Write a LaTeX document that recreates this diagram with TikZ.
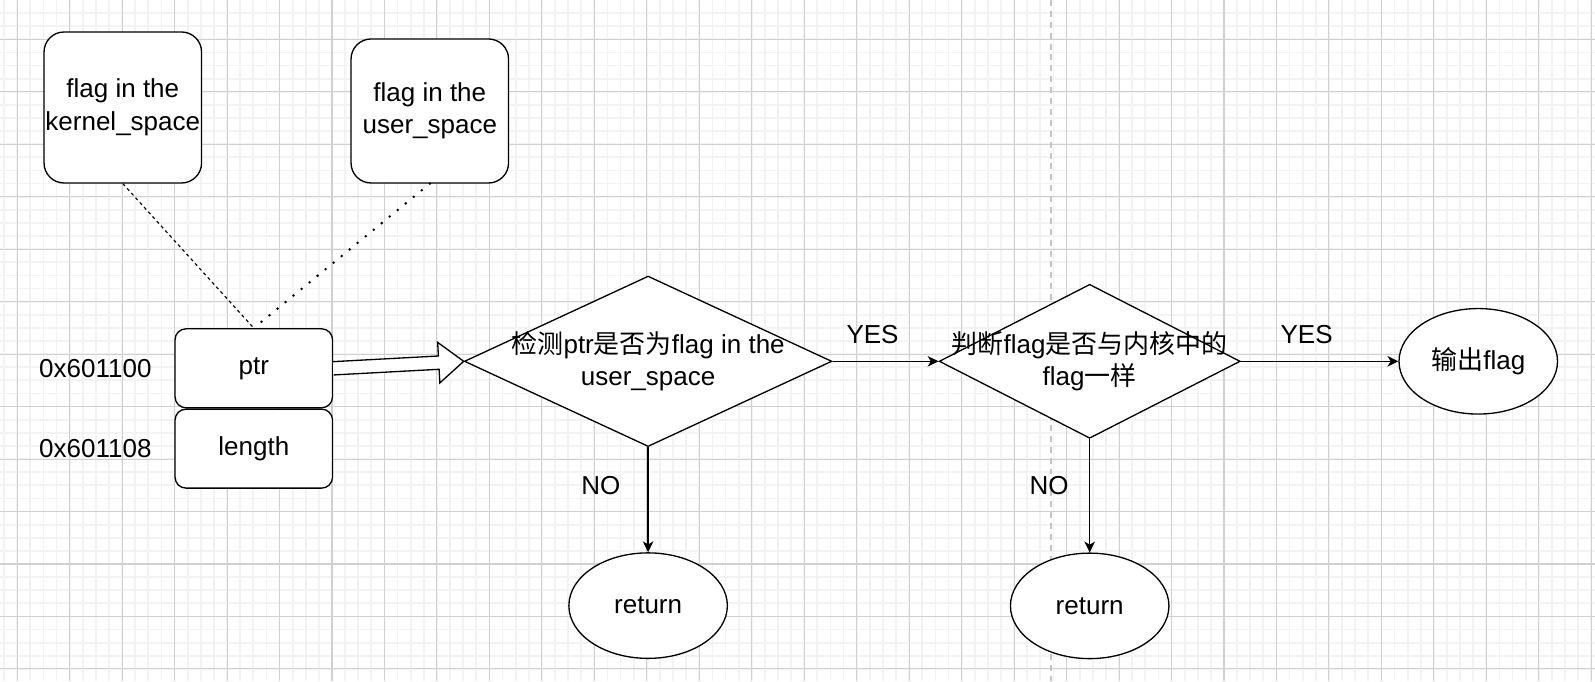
\documentclass[tikz,border=0pt]{standalone}
\usepackage{fontspec}
\setmainfont{Liberation Sans}
\newfontfamily\cjk{Noto Sans CJK SC}
\usepackage{tikz}
\usetikzlibrary{shapes.geometric, arrows.meta, positioning, calc, backgrounds}
\usepackage{xcolor}
\definecolor{cGridMajor}{RGB}{208,208,208}
\definecolor{cGridMinor}{RGB}{243,243,243}
\definecolor{cBreak}{RGB}{196,196,196}
\newcommand{\flowfont}{\fontsize{14.8pt}{18.5pt}\selectfont}
\tikzset{
  basebox/.style={rectangle, draw=black, fill=white, line width=0.75pt,
                  align=center, font=\flowfont, inner sep=0pt},
  spacenode/.style={basebox, rounded corners=0.4cm, minimum width=3.15cm},
  memnode/.style={basebox, rounded corners=0.22cm, minimum width=3.15cm,
                  minimum height=1.58cm},
  decisionnode/.style={diamond, draw=black, fill=white, line width=0.75pt,
                       inner sep=0pt},
  dtext/.style={font=\flowfont, align=center, inner sep=0pt},
  endnode/.style={ellipse, draw=black, fill=white, line width=0.75pt,
                  minimum width=3.17cm, minimum height=2.11cm,
                  inner sep=0pt, font=\flowfont},
  lbl/.style={font=\flowfont, inner sep=0pt},
  arrow/.style={-{Stealth[length=6.2pt, width=6pt, inset=1.8pt]},
                line width=0.75pt},
  blockarrow/.style={draw=black, fill=white, line width=0.75pt},
  kernlink/.style={line width=0.65pt, dash pattern=on 1.8pt off 1.8pt},
  userlink/.style={line width=1.6pt, dash pattern=on 0pt off 5.9pt,
                   line cap=round},
  pagebreak/.style={cBreak, line width=0.9pt, dash pattern=on 3.4pt off 2.8pt}
}

\begin{document}
\begin{tikzpicture}[node distance=0.5cm and 0.5cm]
  \useasboundingbox (-0.344,0.786) rectangle (31.556,-12.834);

  % Memory cells
  \node[memnode] (ptr) at (4.732,-6.58) {ptr};
  \node[memnode, below=0cm of ptr] (len) {length};
  \node[lbl, left=0.45cm of ptr] (addrptr) {0x601100};
  \node[lbl, left=0.45cm of len] (addrlen) {0x601108};

  % Two copies of the flag
  \node[spacenode, minimum height=3.02cm, above=2.89cm of ptr, xshift=-2.62cm] (kflag)
      {flag in the\\kernel\_space};
  \node[spacenode, minimum height=2.88cm, above=2.89cm of ptr, xshift=3.52cm] (uflag)
      {flag in the\\user\_space};

  % Checks
  \node[decisionnode, minimum width=7.35cm, minimum height=3.41cm,
        right=2.61cm of ptr, yshift=0.14cm,
        label={[dtext]center:{\cjk 检测}ptr{\cjk 是否为}flag in the\\user\_space}] (chk) {};
  \node[decisionnode, minimum width=6.02cm, minimum height=3.08cm,
        right=2.12cm of chk,
        label={[dtext]center:{\cjk 判断}flag{\cjk 是否与内核中的}\\flag{\cjk 一样}}] (cmp) {};

  % Results
  \node[endnode, right=3.15cm of cmp] (out) {{\cjk 输出}flag};
  \node[endnode, below=2.1cm of chk] (ret1) {return};
  \node[endnode, below=2.27cm of cmp] (ret2) {return};

  \draw[kernlink] (kflag.south) -- (ptr.north);
  \draw[userlink] (uflag.south) -- (ptr.north);

  \coordinate (hb) at ($(chk.west)!0.5cm!(ptr.east)$);
  \draw[blockarrow]
    ($(ptr.east)!0.133cm!90:(chk.west)$) -- ($(hb)!0.133cm!90:(chk.west)$)
    -- ($(hb)!0.406cm!90:(chk.west)$) -- (chk.west)
    -- ($(hb)!0.406cm!-90:(chk.west)$) -- ($(hb)!0.133cm!-90:(chk.west)$)
    -- ($(ptr.east)!0.133cm!-90:(chk.west)$);

  \draw[arrow] (chk.east) -- node[lbl, above=0.34cm, xshift=-0.26cm] (yes1) {YES} (cmp.west);
  \draw[arrow] (cmp.east) -- node[lbl, above=0.34cm, xshift=-0.26cm] (yes2) {YES} (out.west);
  \draw[arrow] (chk.south) -- node[lbl, left=0.54cm, yshift=0.28cm] (no1) {NO} (ret1.north);
  \draw[arrow] (cmp.south) -- node[lbl, left=0.41cm, yshift=0.2cm] (no2) {NO} (ret2.north);

  % Grid and page break
  \begin{scope}[on background layer]
    \draw[cGridMinor, line width=1pt, step=0.26235cm] (-0.344,0.786) grid (31.556,-12.834);
    \draw[cGridMajor, line width=0.6pt, step=1.0494cm] (-0.344,0.786) grid (31.556,-12.834);
    \draw[pagebreak] (20.672,0.786) -- (20.672,-12.834);
  \end{scope}

\end{tikzpicture}
\end{document}
